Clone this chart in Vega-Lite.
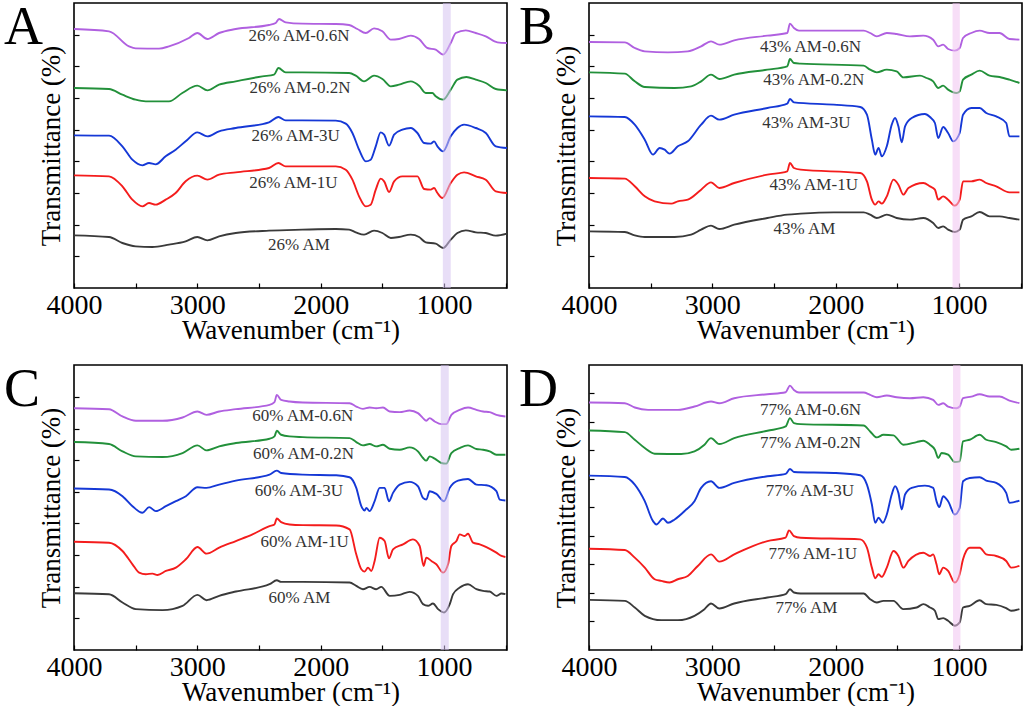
{
  "$schema": "https://vega.github.io/schema/vega-lite/v6.json",
  "description": "FTIR spectra of AM hydrogels, four panels A-D",
  "padding": {"left": 3, "top": 0, "right": 0, "bottom": 0},
  "bounds": "flush",
  "columns": 2,
  "spacing": {"row": 77, "column": 82},
  "config": {
    "view": {"stroke": "black", "strokeWidth": 1.6},
    "font": "Liberation Serif",
    "axis": {
      "labelFont": "Liberation Serif", "titleFont": "Liberation Serif",
      "labelFontSize": 28, "titleFontSize": 27, "titleFontWeight": "normal",
      "labelColor": "black", "titleColor": "black",
      "grid": false, "domain": false,
      "tickColor": "black", "tickSize": -5, "tickWidth": 1.2
    },
    "axisX": {
      "labelFlush": false, "labelOverlap": false, "labelPadding": 8, "titlePadding": -2,
      "values": [500, 1000, 1500, 2000, 2500, 3000, 3500, 4000],
      "labelExpr": "datum.value % 1000 === 0 ? datum.label : ''",
      "format": "d"
    },
    "axisY": {"labels": false, "titlePadding": 8},
    "title": {
      "font": "Liberation Serif", "fontSize": 54, "fontWeight": "normal", "color": "black",
      "anchor": "start", "frame": "group", "offset": 0, "dy": 56, "baseline": "alphabetic"
    },
    "text": {"font": "Liberation Serif", "fontSize": 17, "color": "#333333"},
    "line": {"strokeWidth": 1.9, "interpolate": "monotone"}
  },
  "datasets": {
    "A": [
      {"s":"0.6N","w":4000,"t":777},{"s":"0.6N","w":3716,"t":770},{"s":"0.6N","w":3554,"t":725},{"s":"0.6N","w":3500,"t":719},{"s":"0.6N","w":3311,"t":718},{"s":"0.6N","w":3230,"t":725},{"s":"0.6N","w":3068,"t":750},{"s":"0.6N","w":3000,"t":765},{"s":"0.6N","w":2919,"t":747},{"s":"0.6N","w":2824,"t":765},{"s":"0.6N","w":2689,"t":777},{"s":"0.6N","w":2419,"t":789},{"s":"0.6N","w":2365,"t":795},{"s":"0.6N","w":2338,"t":807},{"s":"0.6N","w":2284,"t":797},{"s":"0.6N","w":2149,"t":793},{"s":"0.6N","w":1878,"t":792},{"s":"0.6N","w":1770,"t":789},{"s":"0.6N","w":1703,"t":777},{"s":"0.6N","w":1635,"t":765},{"s":"0.6N","w":1568,"t":779},{"s":"0.6N","w":1500,"t":770},{"s":"0.6N","w":1432,"t":745},{"s":"0.6N","w":1365,"t":747},{"s":"0.6N","w":1270,"t":757},{"s":"0.6N","w":1203,"t":747},{"s":"0.6N","w":1135,"t":720},{"s":"0.6N","w":1068,"t":715},{"s":"0.6N","w":1008,"t":700},{"s":"0.6N","w":946,"t":735},{"s":"0.6N","w":905,"t":765},{"s":"0.6N","w":824,"t":773},{"s":"0.6N","w":743,"t":765},{"s":"0.6N","w":662,"t":755},{"s":"0.6N","w":568,"t":737},{"s":"0.6N","w":490,"t":735},
      {"s":"0.2N","w":4000,"t":600},{"s":"0.2N","w":3716,"t":597},{"s":"0.2N","w":3608,"t":580},{"s":"0.2N","w":3500,"t":565},{"s":"0.2N","w":3419,"t":560},{"s":"0.2N","w":3230,"t":560},{"s":"0.2N","w":3122,"t":585},{"s":"0.2N","w":3000,"t":607},{"s":"0.2N","w":2919,"t":593},{"s":"0.2N","w":2824,"t":610},{"s":"0.2N","w":2689,"t":620},{"s":"0.2N","w":2473,"t":635},{"s":"0.2N","w":2378,"t":640},{"s":"0.2N","w":2343,"t":660},{"s":"0.2N","w":2284,"t":647},{"s":"0.2N","w":2149,"t":647},{"s":"0.2N","w":1770,"t":645},{"s":"0.2N","w":1716,"t":637},{"s":"0.2N","w":1649,"t":620},{"s":"0.2N","w":1568,"t":637},{"s":"0.2N","w":1500,"t":627},{"s":"0.2N","w":1432,"t":605},{"s":"0.2N","w":1365,"t":610},{"s":"0.2N","w":1270,"t":620},{"s":"0.2N","w":1203,"t":607},{"s":"0.2N","w":1149,"t":585},{"s":"0.2N","w":1095,"t":585},{"s":"0.2N","w":1068,"t":575},{"s":"0.2N","w":1008,"t":565},{"s":"0.2N","w":946,"t":595},{"s":"0.2N","w":892,"t":625},{"s":"0.2N","w":819,"t":633},{"s":"0.2N","w":743,"t":625},{"s":"0.2N","w":662,"t":615},{"s":"0.2N","w":581,"t":597},{"s":"0.2N","w":490,"t":593},
      {"s":"3U","w":4000,"t":458},{"s":"3U","w":3716,"t":457},{"s":"3U","w":3608,"t":425},{"s":"3U","w":3527,"t":385},{"s":"3U","w":3446,"t":368},{"s":"3U","w":3392,"t":375},{"s":"3U","w":3338,"t":371},{"s":"3U","w":3257,"t":395},{"s":"3U","w":3176,"t":415},{"s":"3U","w":3095,"t":440},{"s":"3U","w":3000,"t":467},{"s":"3U","w":2919,"t":455},{"s":"3U","w":2824,"t":470},{"s":"3U","w":2689,"t":480},{"s":"3U","w":2419,"t":497},{"s":"3U","w":2343,"t":513},{"s":"3U","w":2284,"t":503},{"s":"3U","w":2149,"t":503},{"s":"3U","w":1878,"t":502},{"s":"3U","w":1797,"t":493},{"s":"3U","w":1743,"t":465},{"s":"3U","w":1689,"t":415},{"s":"3U","w":1635,"t":380},{"s":"3U","w":1595,"t":385},{"s":"3U","w":1554,"t":425},{"s":"3U","w":1514,"t":467},{"s":"3U","w":1486,"t":460},{"s":"3U","w":1446,"t":427},{"s":"3U","w":1405,"t":460},{"s":"3U","w":1338,"t":475},{"s":"3U","w":1270,"t":480},{"s":"3U","w":1216,"t":465},{"s":"3U","w":1162,"t":435},{"s":"3U","w":1108,"t":433},{"s":"3U","w":1081,"t":440},{"s":"3U","w":1054,"t":425},{"s":"3U","w":1008,"t":410},{"s":"3U","w":946,"t":455},{"s":"3U","w":892,"t":480},{"s":"3U","w":838,"t":490},{"s":"3U","w":743,"t":480},{"s":"3U","w":662,"t":465},{"s":"3U","w":581,"t":425},{"s":"3U","w":490,"t":420},
      {"s":"1U","w":4000,"t":338},{"s":"1U","w":3716,"t":335},{"s":"1U","w":3608,"t":305},{"s":"1U","w":3527,"t":265},{"s":"1U","w":3446,"t":245},{"s":"1U","w":3392,"t":255},{"s":"1U","w":3338,"t":250},{"s":"1U","w":3257,"t":265},{"s":"1U","w":3176,"t":285},{"s":"1U","w":3095,"t":320},{"s":"1U","w":3000,"t":337},{"s":"1U","w":2919,"t":325},{"s":"1U","w":2824,"t":340},{"s":"1U","w":2689,"t":347},{"s":"1U","w":2419,"t":360},{"s":"1U","w":2343,"t":375},{"s":"1U","w":2284,"t":365},{"s":"1U","w":2149,"t":365},{"s":"1U","w":1878,"t":365},{"s":"1U","w":1797,"t":355},{"s":"1U","w":1743,"t":325},{"s":"1U","w":1689,"t":275},{"s":"1U","w":1635,"t":245},{"s":"1U","w":1595,"t":250},{"s":"1U","w":1554,"t":295},{"s":"1U","w":1514,"t":328},{"s":"1U","w":1486,"t":320},{"s":"1U","w":1446,"t":288},{"s":"1U","w":1405,"t":320},{"s":"1U","w":1338,"t":335},{"s":"1U","w":1216,"t":335},{"s":"1U","w":1162,"t":297},{"s":"1U","w":1108,"t":295},{"s":"1U","w":1081,"t":300},{"s":"1U","w":1054,"t":285},{"s":"1U","w":1014,"t":270},{"s":"1U","w":946,"t":315},{"s":"1U","w":892,"t":340},{"s":"1U","w":838,"t":347},{"s":"1U","w":743,"t":335},{"s":"1U","w":662,"t":325},{"s":"1U","w":581,"t":290},{"s":"1U","w":490,"t":285},
      {"s":"AM","w":4000,"t":158},{"s":"AM","w":3716,"t":153},{"s":"AM","w":3608,"t":135},{"s":"AM","w":3500,"t":125},{"s":"AM","w":3365,"t":123},{"s":"AM","w":3230,"t":130},{"s":"AM","w":3095,"t":140},{"s":"AM","w":3000,"t":153},{"s":"AM","w":2919,"t":143},{"s":"AM","w":2824,"t":155},{"s":"AM","w":2689,"t":165},{"s":"AM","w":2419,"t":172},{"s":"AM","w":2149,"t":175},{"s":"AM","w":1878,"t":177},{"s":"AM","w":1770,"t":175},{"s":"AM","w":1716,"t":167},{"s":"AM","w":1649,"t":160},{"s":"AM","w":1568,"t":172},{"s":"AM","w":1500,"t":165},{"s":"AM","w":1432,"t":150},{"s":"AM","w":1365,"t":153},{"s":"AM","w":1270,"t":160},{"s":"AM","w":1203,"t":153},{"s":"AM","w":1149,"t":137},{"s":"AM","w":1068,"t":133},{"s":"AM","w":1008,"t":120},{"s":"AM","w":946,"t":145},{"s":"AM","w":892,"t":165},{"s":"AM","w":824,"t":173},{"s":"AM","w":743,"t":167},{"s":"AM","w":662,"t":165},{"s":"AM","w":581,"t":157},{"s":"AM","w":490,"t":163}
    ],
    "B": [
      {"s":"0.6N","w":4000,"t":738},{"s":"0.6N","w":3710,"t":737},{"s":"0.6N","w":3629,"t":720},{"s":"0.6N","w":3548,"t":710},{"s":"0.6N","w":3360,"t":707},{"s":"0.6N","w":3199,"t":710},{"s":"0.6N","w":3091,"t":725},{"s":"0.6N","w":3011,"t":740},{"s":"0.6N","w":2944,"t":730},{"s":"0.6N","w":2823,"t":743},{"s":"0.6N","w":2554,"t":757},{"s":"0.6N","w":2393,"t":765},{"s":"0.6N","w":2371,"t":793},{"s":"0.6N","w":2339,"t":780},{"s":"0.6N","w":2298,"t":772},{"s":"0.6N","w":2016,"t":772},{"s":"0.6N","w":1774,"t":772},{"s":"0.6N","w":1721,"t":765},{"s":"0.6N","w":1667,"t":755},{"s":"0.6N","w":1586,"t":765},{"s":"0.6N","w":1506,"t":762},{"s":"0.6N","w":1398,"t":755},{"s":"0.6N","w":1290,"t":757},{"s":"0.6N","w":1210,"t":745},{"s":"0.6N","w":1169,"t":725},{"s":"0.6N","w":1129,"t":730},{"s":"0.6N","w":1089,"t":717},{"s":"0.6N","w":1035,"t":712},{"s":"0.6N","w":995,"t":720},{"s":"0.6N","w":968,"t":750},{"s":"0.6N","w":901,"t":765},{"s":"0.6N","w":833,"t":772},{"s":"0.6N","w":753,"t":765},{"s":"0.6N","w":672,"t":765},{"s":"0.6N","w":592,"t":747},{"s":"0.6N","w":511,"t":745},
      {"s":"0.2N","w":4000,"t":647},{"s":"0.2N","w":3710,"t":643},{"s":"0.2N","w":3629,"t":620},{"s":"0.2N","w":3548,"t":603},{"s":"0.2N","w":3306,"t":600},{"s":"0.2N","w":3172,"t":605},{"s":"0.2N","w":3091,"t":620},{"s":"0.2N","w":3011,"t":640},{"s":"0.2N","w":2944,"t":627},{"s":"0.2N","w":2823,"t":640},{"s":"0.2N","w":2554,"t":655},{"s":"0.2N","w":2393,"t":665},{"s":"0.2N","w":2371,"t":687},{"s":"0.2N","w":2339,"t":675},{"s":"0.2N","w":2285,"t":673},{"s":"0.2N","w":1774,"t":667},{"s":"0.2N","w":1721,"t":655},{"s":"0.2N","w":1667,"t":647},{"s":"0.2N","w":1586,"t":655},{"s":"0.2N","w":1506,"t":650},{"s":"0.2N","w":1452,"t":632},{"s":"0.2N","w":1317,"t":637},{"s":"0.2N","w":1264,"t":630},{"s":"0.2N","w":1210,"t":620},{"s":"0.2N","w":1169,"t":600},{"s":"0.2N","w":1129,"t":607},{"s":"0.2N","w":1089,"t":595},{"s":"0.2N","w":1022,"t":585},{"s":"0.2N","w":995,"t":590},{"s":"0.2N","w":968,"t":625},{"s":"0.2N","w":901,"t":640},{"s":"0.2N","w":833,"t":652},{"s":"0.2N","w":753,"t":637},{"s":"0.2N","w":672,"t":633},{"s":"0.2N","w":592,"t":625},{"s":"0.2N","w":511,"t":615},
      {"s":"3U","w":4000,"t":515},{"s":"3U","w":3710,"t":513},{"s":"3U","w":3629,"t":490},{"s":"3U","w":3548,"t":445},{"s":"3U","w":3481,"t":400},{"s":"3U","w":3427,"t":420},{"s":"3U","w":3387,"t":415},{"s":"3U","w":3347,"t":403},{"s":"3U","w":3280,"t":425},{"s":"3U","w":3199,"t":440},{"s":"3U","w":3091,"t":490},{"s":"3U","w":3011,"t":517},{"s":"3U","w":2944,"t":505},{"s":"3U","w":2823,"t":520},{"s":"3U","w":2554,"t":540},{"s":"3U","w":2393,"t":553},{"s":"3U","w":2371,"t":567},{"s":"3U","w":2339,"t":557},{"s":"3U","w":2016,"t":550},{"s":"3U","w":1801,"t":543},{"s":"3U","w":1747,"t":520},{"s":"3U","w":1707,"t":445},{"s":"3U","w":1680,"t":400},{"s":"3U","w":1653,"t":420},{"s":"3U","w":1626,"t":395},{"s":"3U","w":1586,"t":425},{"s":"3U","w":1546,"t":490},{"s":"3U","w":1519,"t":510},{"s":"3U","w":1492,"t":485},{"s":"3U","w":1465,"t":437},{"s":"3U","w":1438,"t":485},{"s":"3U","w":1384,"t":510},{"s":"3U","w":1277,"t":522},{"s":"3U","w":1236,"t":513},{"s":"3U","w":1196,"t":495},{"s":"3U","w":1169,"t":450},{"s":"3U","w":1129,"t":483},{"s":"3U","w":1089,"t":465},{"s":"3U","w":1048,"t":440},{"s":"3U","w":995,"t":465},{"s":"3U","w":968,"t":520},{"s":"3U","w":901,"t":540},{"s":"3U","w":833,"t":540},{"s":"3U","w":780,"t":525},{"s":"3U","w":699,"t":515},{"s":"3U","w":618,"t":495},{"s":"3U","w":592,"t":455},{"s":"3U","w":511,"t":455},
      {"s":"1U","w":4000,"t":330},{"s":"1U","w":3710,"t":328},{"s":"1U","w":3629,"t":305},{"s":"1U","w":3548,"t":275},{"s":"1U","w":3468,"t":260},{"s":"1U","w":3333,"t":253},{"s":"1U","w":3280,"t":260},{"s":"1U","w":3199,"t":265},{"s":"1U","w":3091,"t":295},{"s":"1U","w":3011,"t":317},{"s":"1U","w":2944,"t":300},{"s":"1U","w":2823,"t":315},{"s":"1U","w":2554,"t":340},{"s":"1U","w":2393,"t":350},{"s":"1U","w":2371,"t":375},{"s":"1U","w":2339,"t":360},{"s":"1U","w":2285,"t":355},{"s":"1U","w":1801,"t":345},{"s":"1U","w":1747,"t":320},{"s":"1U","w":1707,"t":265},{"s":"1U","w":1680,"t":250},{"s":"1U","w":1653,"t":260},{"s":"1U","w":1626,"t":253},{"s":"1U","w":1586,"t":275},{"s":"1U","w":1532,"t":325},{"s":"1U","w":1492,"t":310},{"s":"1U","w":1452,"t":280},{"s":"1U","w":1411,"t":300},{"s":"1U","w":1290,"t":315},{"s":"1U","w":1236,"t":305},{"s":"1U","w":1196,"t":295},{"s":"1U","w":1169,"t":265},{"s":"1U","w":1129,"t":275},{"s":"1U","w":1089,"t":265},{"s":"1U","w":1035,"t":247},{"s":"1U","w":995,"t":265},{"s":"1U","w":968,"t":320},{"s":"1U","w":901,"t":320},{"s":"1U","w":833,"t":325},{"s":"1U","w":780,"t":315},{"s":"1U","w":699,"t":305},{"s":"1U","w":592,"t":287},{"s":"1U","w":511,"t":287},
      {"s":"AM","w":4000,"t":170},{"s":"AM","w":3710,"t":168},{"s":"AM","w":3629,"t":158},{"s":"AM","w":3548,"t":153},{"s":"AM","w":3306,"t":153},{"s":"AM","w":3172,"t":160},{"s":"AM","w":3091,"t":175},{"s":"AM","w":3011,"t":187},{"s":"AM","w":2944,"t":177},{"s":"AM","w":2823,"t":190},{"s":"AM","w":2554,"t":210},{"s":"AM","w":2393,"t":220},{"s":"AM","w":2285,"t":223},{"s":"AM","w":2016,"t":227},{"s":"AM","w":1774,"t":227},{"s":"AM","w":1721,"t":220},{"s":"AM","w":1667,"t":210},{"s":"AM","w":1586,"t":220},{"s":"AM","w":1506,"t":210},{"s":"AM","w":1398,"t":205},{"s":"AM","w":1290,"t":210},{"s":"AM","w":1210,"t":195},{"s":"AM","w":1169,"t":180},{"s":"AM","w":1129,"t":185},{"s":"AM","w":1089,"t":175},{"s":"AM","w":1035,"t":168},{"s":"AM","w":995,"t":175},{"s":"AM","w":968,"t":205},{"s":"AM","w":901,"t":215},{"s":"AM","w":833,"t":228},{"s":"AM","w":753,"t":215},{"s":"AM","w":672,"t":215},{"s":"AM","w":592,"t":210},{"s":"AM","w":511,"t":205}
    ],
    "C": [
      {"s":"0.6N","w":4000,"t":728},{"s":"0.6N","w":3716,"t":725},{"s":"0.6N","w":3607,"t":703},{"s":"0.6N","w":3499,"t":690},{"s":"0.6N","w":3282,"t":690},{"s":"0.6N","w":3120,"t":700},{"s":"0.6N","w":2999,"t":718},{"s":"0.6N","w":2926,"t":708},{"s":"0.6N","w":2823,"t":718},{"s":"0.6N","w":2688,"t":725},{"s":"0.6N","w":2415,"t":738},{"s":"0.6N","w":2375,"t":746},{"s":"0.6N","w":2356,"t":768},{"s":"0.6N","w":2321,"t":753},{"s":"0.6N","w":2253,"t":748},{"s":"0.6N","w":2145,"t":745},{"s":"0.6N","w":1766,"t":743},{"s":"0.6N","w":1712,"t":733},{"s":"0.6N","w":1658,"t":726},{"s":"0.6N","w":1604,"t":730},{"s":"0.6N","w":1550,"t":728},{"s":"0.6N","w":1495,"t":730},{"s":"0.6N","w":1441,"t":718},{"s":"0.6N","w":1360,"t":716},{"s":"0.6N","w":1279,"t":721},{"s":"0.6N","w":1212,"t":713},{"s":"0.6N","w":1171,"t":698},{"s":"0.6N","w":1144,"t":690},{"s":"0.6N","w":1117,"t":698},{"s":"0.6N","w":1076,"t":688},{"s":"0.6N","w":1022,"t":680},{"s":"0.6N","w":982,"t":680},{"s":"0.6N","w":941,"t":708},{"s":"0.6N","w":873,"t":723},{"s":"0.6N","w":806,"t":730},{"s":"0.6N","w":738,"t":723},{"s":"0.6N","w":684,"t":718},{"s":"0.6N","w":630,"t":716},{"s":"0.6N","w":576,"t":708},{"s":"0.6N","w":503,"t":703},
      {"s":"0.2N","w":4000,"t":626},{"s":"0.2N","w":3716,"t":620},{"s":"0.2N","w":3607,"t":598},{"s":"0.2N","w":3499,"t":583},{"s":"0.2N","w":3282,"t":581},{"s":"0.2N","w":3120,"t":593},{"s":"0.2N","w":2999,"t":616},{"s":"0.2N","w":2926,"t":601},{"s":"0.2N","w":2823,"t":613},{"s":"0.2N","w":2688,"t":623},{"s":"0.2N","w":2415,"t":636},{"s":"0.2N","w":2375,"t":643},{"s":"0.2N","w":2356,"t":660},{"s":"0.2N","w":2321,"t":648},{"s":"0.2N","w":2253,"t":643},{"s":"0.2N","w":2145,"t":641},{"s":"0.2N","w":1766,"t":638},{"s":"0.2N","w":1712,"t":626},{"s":"0.2N","w":1658,"t":616},{"s":"0.2N","w":1604,"t":620},{"s":"0.2N","w":1550,"t":613},{"s":"0.2N","w":1495,"t":618},{"s":"0.2N","w":1441,"t":606},{"s":"0.2N","w":1360,"t":603},{"s":"0.2N","w":1279,"t":610},{"s":"0.2N","w":1212,"t":598},{"s":"0.2N","w":1171,"t":578},{"s":"0.2N","w":1144,"t":570},{"s":"0.2N","w":1117,"t":583},{"s":"0.2N","w":1076,"t":576},{"s":"0.2N","w":1022,"t":563},{"s":"0.2N","w":982,"t":561},{"s":"0.2N","w":941,"t":593},{"s":"0.2N","w":873,"t":608},{"s":"0.2N","w":806,"t":616},{"s":"0.2N","w":738,"t":605},{"s":"0.2N","w":684,"t":603},{"s":"0.2N","w":630,"t":598},{"s":"0.2N","w":576,"t":588},{"s":"0.2N","w":503,"t":588},
      {"s":"3U","w":4000,"t":486},{"s":"3U","w":3716,"t":483},{"s":"3U","w":3607,"t":463},{"s":"3U","w":3526,"t":433},{"s":"3U","w":3445,"t":413},{"s":"3U","w":3391,"t":430},{"s":"3U","w":3337,"t":418},{"s":"3U","w":3255,"t":433},{"s":"3U","w":3174,"t":448},{"s":"3U","w":3093,"t":463},{"s":"3U","w":2999,"t":490},{"s":"3U","w":2926,"t":488},{"s":"3U","w":2823,"t":498},{"s":"3U","w":2688,"t":510},{"s":"3U","w":2415,"t":528},{"s":"3U","w":2356,"t":540},{"s":"3U","w":2321,"t":533},{"s":"3U","w":2145,"t":528},{"s":"3U","w":1874,"t":526},{"s":"3U","w":1766,"t":520},{"s":"3U","w":1712,"t":488},{"s":"3U","w":1671,"t":433},{"s":"3U","w":1644,"t":420},{"s":"3U","w":1630,"t":428},{"s":"3U","w":1604,"t":418},{"s":"3U","w":1563,"t":448},{"s":"3U","w":1522,"t":488},{"s":"3U","w":1482,"t":488},{"s":"3U","w":1447,"t":448},{"s":"3U","w":1414,"t":473},{"s":"3U","w":1360,"t":498},{"s":"3U","w":1279,"t":506},{"s":"3U","w":1212,"t":493},{"s":"3U","w":1171,"t":458},{"s":"3U","w":1144,"t":453},{"s":"3U","w":1117,"t":478},{"s":"3U","w":1063,"t":470},{"s":"3U","w":1000,"t":448},{"s":"3U","w":954,"t":488},{"s":"3U","w":887,"t":510},{"s":"3U","w":806,"t":515},{"s":"3U","w":738,"t":498},{"s":"3U","w":657,"t":496},{"s":"3U","w":576,"t":478},{"s":"3U","w":549,"t":453},{"s":"3U","w":503,"t":450},
      {"s":"1U","w":4000,"t":326},{"s":"1U","w":3716,"t":323},{"s":"1U","w":3607,"t":298},{"s":"1U","w":3526,"t":258},{"s":"1U","w":3472,"t":233},{"s":"1U","w":3418,"t":228},{"s":"1U","w":3364,"t":230},{"s":"1U","w":3323,"t":226},{"s":"1U","w":3255,"t":238},{"s":"1U","w":3174,"t":248},{"s":"1U","w":3093,"t":273},{"s":"1U","w":2999,"t":310},{"s":"1U","w":2926,"t":290},{"s":"1U","w":2823,"t":308},{"s":"1U","w":2688,"t":328},{"s":"1U","w":2553,"t":348},{"s":"1U","w":2415,"t":373},{"s":"1U","w":2375,"t":378},{"s":"1U","w":2356,"t":396},{"s":"1U","w":2321,"t":385},{"s":"1U","w":2253,"t":378},{"s":"1U","w":2145,"t":376},{"s":"1U","w":1874,"t":375},{"s":"1U","w":1766,"t":363},{"s":"1U","w":1712,"t":288},{"s":"1U","w":1671,"t":243},{"s":"1U","w":1644,"t":236},{"s":"1U","w":1617,"t":248},{"s":"1U","w":1590,"t":238},{"s":"1U","w":1563,"t":268},{"s":"1U","w":1522,"t":338},{"s":"1U","w":1482,"t":328},{"s":"1U","w":1447,"t":276},{"s":"1U","w":1414,"t":303},{"s":"1U","w":1333,"t":318},{"s":"1U","w":1252,"t":333},{"s":"1U","w":1198,"t":313},{"s":"1U","w":1166,"t":253},{"s":"1U","w":1144,"t":278},{"s":"1U","w":1103,"t":268},{"s":"1U","w":1063,"t":258},{"s":"1U","w":1008,"t":233},{"s":"1U","w":968,"t":258},{"s":"1U","w":941,"t":313},{"s":"1U","w":900,"t":328},{"s":"1U","w":873,"t":348},{"s":"1U","w":833,"t":343},{"s":"1U","w":806,"t":350},{"s":"1U","w":765,"t":323},{"s":"1U","w":711,"t":318},{"s":"1U","w":657,"t":310},{"s":"1U","w":576,"t":293},{"s":"1U","w":535,"t":283},{"s":"1U","w":503,"t":280},
      {"s":"AM","w":4000,"t":171},{"s":"AM","w":3716,"t":168},{"s":"AM","w":3607,"t":143},{"s":"AM","w":3499,"t":123},{"s":"AM","w":3282,"t":120},{"s":"AM","w":3120,"t":133},{"s":"AM","w":2999,"t":166},{"s":"AM","w":2926,"t":150},{"s":"AM","w":2823,"t":163},{"s":"AM","w":2688,"t":176},{"s":"AM","w":2415,"t":198},{"s":"AM","w":2356,"t":210},{"s":"AM","w":2321,"t":205},{"s":"AM","w":2145,"t":205},{"s":"AM","w":1766,"t":203},{"s":"AM","w":1712,"t":193},{"s":"AM","w":1658,"t":183},{"s":"AM","w":1604,"t":190},{"s":"AM","w":1550,"t":183},{"s":"AM","w":1509,"t":190},{"s":"AM","w":1441,"t":163},{"s":"AM","w":1360,"t":166},{"s":"AM","w":1279,"t":175},{"s":"AM","w":1212,"t":163},{"s":"AM","w":1171,"t":138},{"s":"AM","w":1130,"t":133},{"s":"AM","w":1090,"t":140},{"s":"AM","w":1049,"t":123},{"s":"AM","w":1000,"t":113},{"s":"AM","w":954,"t":138},{"s":"AM","w":927,"t":168},{"s":"AM","w":873,"t":188},{"s":"AM","w":806,"t":198},{"s":"AM","w":738,"t":183},{"s":"AM","w":684,"t":178},{"s":"AM","w":630,"t":176},{"s":"AM","w":576,"t":163},{"s":"AM","w":535,"t":170},{"s":"AM","w":503,"t":168}
    ],
    "D": [
      {"s":"0.6N","w":4000,"t":745},{"s":"0.6N","w":3710,"t":743},{"s":"0.6N","w":3629,"t":730},{"s":"0.6N","w":3521,"t":723},{"s":"0.6N","w":3279,"t":723},{"s":"0.6N","w":3145,"t":733},{"s":"0.6N","w":3011,"t":748},{"s":"0.6N","w":2944,"t":743},{"s":"0.6N","w":2823,"t":758},{"s":"0.6N","w":2554,"t":770},{"s":"0.6N","w":2406,"t":776},{"s":"0.6N","w":2371,"t":796},{"s":"0.6N","w":2339,"t":783},{"s":"0.6N","w":2298,"t":775},{"s":"0.6N","w":1774,"t":775},{"s":"0.6N","w":1721,"t":768},{"s":"0.6N","w":1667,"t":761},{"s":"0.6N","w":1586,"t":766},{"s":"0.6N","w":1506,"t":761},{"s":"0.6N","w":1398,"t":758},{"s":"0.6N","w":1290,"t":761},{"s":"0.6N","w":1210,"t":753},{"s":"0.6N","w":1169,"t":738},{"s":"0.6N","w":1129,"t":743},{"s":"0.6N","w":1089,"t":733},{"s":"0.6N","w":1022,"t":728},{"s":"0.6N","w":995,"t":733},{"s":"0.6N","w":968,"t":758},{"s":"0.6N","w":901,"t":763},{"s":"0.6N","w":833,"t":770},{"s":"0.6N","w":753,"t":763},{"s":"0.6N","w":672,"t":763},{"s":"0.6N","w":592,"t":751},{"s":"0.6N","w":511,"t":743},
      {"s":"0.2N","w":4000,"t":661},{"s":"0.2N","w":3710,"t":656},{"s":"0.2N","w":3629,"t":633},{"s":"0.2N","w":3548,"t":608},{"s":"0.2N","w":3468,"t":591},{"s":"0.2N","w":3253,"t":590},{"s":"0.2N","w":3145,"t":598},{"s":"0.2N","w":3064,"t":618},{"s":"0.2N","w":3011,"t":638},{"s":"0.2N","w":2944,"t":620},{"s":"0.2N","w":2823,"t":638},{"s":"0.2N","w":2554,"t":660},{"s":"0.2N","w":2406,"t":673},{"s":"0.2N","w":2371,"t":698},{"s":"0.2N","w":2339,"t":683},{"s":"0.2N","w":2285,"t":680},{"s":"0.2N","w":1774,"t":676},{"s":"0.2N","w":1721,"t":658},{"s":"0.2N","w":1667,"t":640},{"s":"0.2N","w":1613,"t":648},{"s":"0.2N","w":1532,"t":646},{"s":"0.2N","w":1452,"t":618},{"s":"0.2N","w":1344,"t":626},{"s":"0.2N","w":1290,"t":630},{"s":"0.2N","w":1236,"t":618},{"s":"0.2N","w":1196,"t":603},{"s":"0.2N","w":1169,"t":578},{"s":"0.2N","w":1142,"t":593},{"s":"0.2N","w":1089,"t":588},{"s":"0.2N","w":1035,"t":566},{"s":"0.2N","w":995,"t":568},{"s":"0.2N","w":968,"t":628},{"s":"0.2N","w":914,"t":633},{"s":"0.2N","w":833,"t":648},{"s":"0.2N","w":780,"t":633},{"s":"0.2N","w":699,"t":626},{"s":"0.2N","w":618,"t":613},{"s":"0.2N","w":578,"t":603},{"s":"0.2N","w":511,"t":606},
      {"s":"3U","w":4000,"t":525},{"s":"3U","w":3710,"t":521},{"s":"3U","w":3629,"t":498},{"s":"3U","w":3548,"t":448},{"s":"3U","w":3481,"t":388},{"s":"3U","w":3454,"t":378},{"s":"3U","w":3400,"t":396},{"s":"3U","w":3360,"t":383},{"s":"3U","w":3306,"t":393},{"s":"3U","w":3212,"t":423},{"s":"3U","w":3145,"t":448},{"s":"3U","w":3091,"t":488},{"s":"3U","w":3011,"t":508},{"s":"3U","w":2944,"t":488},{"s":"3U","w":2823,"t":503},{"s":"3U","w":2554,"t":523},{"s":"3U","w":2406,"t":530},{"s":"3U","w":2371,"t":545},{"s":"3U","w":2339,"t":536},{"s":"3U","w":2016,"t":533},{"s":"3U","w":1801,"t":526},{"s":"3U","w":1747,"t":498},{"s":"3U","w":1707,"t":438},{"s":"3U","w":1680,"t":383},{"s":"3U","w":1653,"t":398},{"s":"3U","w":1618,"t":383},{"s":"3U","w":1586,"t":408},{"s":"3U","w":1546,"t":468},{"s":"3U","w":1519,"t":493},{"s":"3U","w":1492,"t":473},{"s":"3U","w":1465,"t":423},{"s":"3U","w":1438,"t":468},{"s":"3U","w":1384,"t":488},{"s":"3U","w":1277,"t":495},{"s":"3U","w":1210,"t":488},{"s":"3U","w":1183,"t":448},{"s":"3U","w":1161,"t":430},{"s":"3U","w":1129,"t":463},{"s":"3U","w":1089,"t":448},{"s":"3U","w":1035,"t":408},{"s":"3U","w":995,"t":428},{"s":"3U","w":968,"t":508},{"s":"3U","w":914,"t":518},{"s":"3U","w":833,"t":520},{"s":"3U","w":780,"t":510},{"s":"3U","w":699,"t":503},{"s":"3U","w":618,"t":473},{"s":"3U","w":592,"t":443},{"s":"3U","w":511,"t":450},
      {"s":"1U","w":4000,"t":305},{"s":"1U","w":3710,"t":301},{"s":"1U","w":3629,"t":278},{"s":"1U","w":3548,"t":248},{"s":"1U","w":3468,"t":213},{"s":"1U","w":3414,"t":208},{"s":"1U","w":3347,"t":203},{"s":"1U","w":3280,"t":213},{"s":"1U","w":3199,"t":223},{"s":"1U","w":3118,"t":253},{"s":"1U","w":3011,"t":288},{"s":"1U","w":2944,"t":266},{"s":"1U","w":2823,"t":288},{"s":"1U","w":2554,"t":328},{"s":"1U","w":2406,"t":338},{"s":"1U","w":2379,"t":360},{"s":"1U","w":2339,"t":343},{"s":"1U","w":2285,"t":338},{"s":"1U","w":1801,"t":333},{"s":"1U","w":1747,"t":308},{"s":"1U","w":1707,"t":248},{"s":"1U","w":1680,"t":216},{"s":"1U","w":1653,"t":228},{"s":"1U","w":1626,"t":220},{"s":"1U","w":1586,"t":248},{"s":"1U","w":1532,"t":298},{"s":"1U","w":1492,"t":283},{"s":"1U","w":1452,"t":248},{"s":"1U","w":1411,"t":268},{"s":"1U","w":1290,"t":293},{"s":"1U","w":1236,"t":283},{"s":"1U","w":1210,"t":288},{"s":"1U","w":1183,"t":258},{"s":"1U","w":1161,"t":228},{"s":"1U","w":1129,"t":248},{"s":"1U","w":1089,"t":238},{"s":"1U","w":1035,"t":203},{"s":"1U","w":995,"t":228},{"s":"1U","w":968,"t":273},{"s":"1U","w":914,"t":308},{"s":"1U","w":833,"t":308},{"s":"1U","w":780,"t":288},{"s":"1U","w":699,"t":283},{"s":"1U","w":618,"t":268},{"s":"1U","w":578,"t":248},{"s":"1U","w":511,"t":253},
      {"s":"AM","w":4000,"t":151},{"s":"AM","w":3710,"t":148},{"s":"AM","w":3629,"t":128},{"s":"AM","w":3548,"t":103},{"s":"AM","w":3414,"t":90},{"s":"AM","w":3279,"t":90},{"s":"AM","w":3145,"t":103},{"s":"AM","w":3064,"t":123},{"s":"AM","w":3011,"t":140},{"s":"AM","w":2944,"t":125},{"s":"AM","w":2823,"t":140},{"s":"AM","w":2554,"t":158},{"s":"AM","w":2406,"t":168},{"s":"AM","w":2371,"t":183},{"s":"AM","w":2339,"t":173},{"s":"AM","w":2285,"t":170},{"s":"AM","w":1774,"t":170},{"s":"AM","w":1721,"t":153},{"s":"AM","w":1667,"t":143},{"s":"AM","w":1613,"t":148},{"s":"AM","w":1532,"t":148},{"s":"AM","w":1452,"t":123},{"s":"AM","w":1344,"t":128},{"s":"AM","w":1290,"t":138},{"s":"AM","w":1236,"t":128},{"s":"AM","w":1196,"t":118},{"s":"AM","w":1169,"t":93},{"s":"AM","w":1129,"t":96},{"s":"AM","w":1089,"t":88},{"s":"AM","w":1035,"t":73},{"s":"AM","w":995,"t":83},{"s":"AM","w":968,"t":128},{"s":"AM","w":914,"t":133},{"s":"AM","w":833,"t":150},{"s":"AM","w":780,"t":138},{"s":"AM","w":699,"t":136},{"s":"AM","w":618,"t":126},{"s":"AM","w":578,"t":118},{"s":"AM","w":511,"t":123}
    ],
    "LA": [
      {"w":2176,"t":757,"label":"26% AM-0.6N"},{"w":2167,"t":600,"label":"26% AM-0.2N"},{"w":2203,"t":455,"label":"26% AM-3U"},{"w":2222,"t":315,"label":"26% AM-1U"},{"w":2176,"t":130,"label":"26% AM"}
    ],
    "LB": [
      {"w":2204,"t":723,"label":"43% AM-0.6N"},{"w":2178,"t":625,"label":"43% AM-0.2N"},{"w":2237,"t":495,"label":"43% AM-3U"},{"w":2178,"t":310,"label":"43% AM-1U"},{"w":2253,"t":177,"label":"43% AM"}
    ],
    "LC": [
      {"w":2145,"t":703,"label":"60% AM-0.6N"},{"w":2140,"t":591,"label":"60% AM-0.2N"},{"w":2177,"t":478,"label":"60% AM-3U"},{"w":2131,"t":326,"label":"60% AM-1U"},{"w":2172,"t":158,"label":"60% AM"}
    ],
    "LD": [
      {"w":2204,"t":723,"label":"77% AM-0.6N"},{"w":2204,"t":623,"label":"77% AM-0.2N"},{"w":2210,"t":478,"label":"77% AM-3U"},{"w":2186,"t":290,"label":"77% AM-1U"},{"w":2237,"t":126,"label":"77% AM"}
    ]
  },
  "concat": [
    {
      "width": 433, "height": 285,
      "title": {"text": "A", "dx": -70},
      "encoding": {
        "x": {"field": "w", "type": "quantitative", "scale": {"domain": [490, 4000], "reverse": true, "nice": false, "zero": false}, "axis": {"title": "Wavenumber (cm⁻¹)"}},
        "y": {"field": "t", "type": "quantitative", "scale": {"domain": [0, 855], "nice": false, "zero": false}, "axis": {"values": [95, 190, 285, 380, 475, 570, 665, 760], "title": "Transmittance (%)"}}
      },
      "layer": [
        {"data": {"name": "A"}, "mark": "line", "encoding": {"color": {"field": "s", "type": "nominal", "legend": null, "scale": {"domain": ["0.6N", "0.2N", "3U", "1U", "AM"], "range": ["#b060e0", "#22903a", "#1538d6", "#f41c1c", "#3a3a3a"]}}}},
        {"data": {"values": [{"w": 946, "w2": 1010, "t": 0, "t2": 855}]}, "mark": {"type": "rect", "fill": "#d6c3f0", "opacity": 0.55}, "encoding": {"x2": {"field": "w2"}, "y2": {"field": "t2"}}},
        {"data": {"name": "LA"}, "mark": {"type": "text", "baseline": "middle", "align": "center"}, "encoding": {"text": {"field": "label"}}}
      ]
    },
    {
      "width": 433, "height": 285,
      "title": {"text": "B", "dx": -70},
      "encoding": {
        "x": {"field": "w", "type": "quantitative", "scale": {"domain": [490, 4000], "reverse": true, "nice": false, "zero": false}, "axis": {"title": "Wavenumber (cm⁻¹)"}},
        "y": {"field": "t", "type": "quantitative", "scale": {"domain": [0, 855], "nice": false, "zero": false}, "axis": {"values": [95, 190, 285, 380, 475, 570, 665, 760], "title": "Transmittance (%)"}}
      },
      "layer": [
        {"data": {"name": "B"}, "mark": "line", "encoding": {"color": {"field": "s", "type": "nominal", "legend": null, "scale": {"domain": ["0.6N", "0.2N", "3U", "1U", "AM"], "range": ["#b060e0", "#22903a", "#1538d6", "#f41c1c", "#3a3a3a"]}}}},
        {"data": {"values": [{"w": 994, "w2": 1053, "t": 0, "t2": 855}]}, "mark": {"type": "rect", "fill": "#f0c2f0", "opacity": 0.55}, "encoding": {"x2": {"field": "w2"}, "y2": {"field": "t2"}}},
        {"data": {"name": "LB"}, "mark": {"type": "text", "baseline": "middle", "align": "center"}, "encoding": {"text": {"field": "label"}}}
      ]
    },
    {
      "width": 433, "height": 285,
      "title": {"text": "C", "dx": -70},
      "encoding": {
        "x": {"field": "w", "type": "quantitative", "scale": {"domain": [490, 4000], "reverse": true, "nice": false, "zero": false}, "axis": {"title": "Wavenumber (cm⁻¹)"}},
        "y": {"field": "t", "type": "quantitative", "scale": {"domain": [0, 858], "nice": false, "zero": false}, "axis": {"values": [96, 191, 286, 381, 476, 571, 666, 761], "title": "Transmittance (%)"}}
      },
      "layer": [
        {"data": {"name": "C"}, "mark": "line", "encoding": {"color": {"field": "s", "type": "nominal", "legend": null, "scale": {"domain": ["0.6N", "0.2N", "3U", "1U", "AM"], "range": ["#b060e0", "#22903a", "#1538d6", "#f41c1c", "#3a3a3a"]}}}},
        {"data": {"values": [{"w": 962, "w2": 1027, "t": 0, "t2": 858}]}, "mark": {"type": "rect", "fill": "#d6c3f0", "opacity": 0.55}, "encoding": {"x2": {"field": "w2"}, "y2": {"field": "t2"}}},
        {"data": {"name": "LC"}, "mark": {"type": "text", "baseline": "middle", "align": "center"}, "encoding": {"text": {"field": "label"}}}
      ]
    },
    {
      "width": 433, "height": 285,
      "title": {"text": "D", "dx": -70},
      "encoding": {
        "x": {"field": "w", "type": "quantitative", "scale": {"domain": [490, 4000], "reverse": true, "nice": false, "zero": false}, "axis": {"title": "Wavenumber (cm⁻¹)"}},
        "y": {"field": "t", "type": "quantitative", "scale": {"domain": [0, 858], "nice": false, "zero": false}, "axis": {"values": [87, 173, 258, 344, 430, 516, 601, 687, 773], "title": "Transmittance (%)"}}
      },
      "layer": [
        {"data": {"name": "D"}, "mark": "line", "encoding": {"color": {"field": "s", "type": "nominal", "legend": null, "scale": {"domain": ["0.6N", "0.2N", "3U", "1U", "AM"], "range": ["#b060e0", "#22903a", "#1538d6", "#f41c1c", "#3a3a3a"]}}}},
        {"data": {"values": [{"w": 989, "w2": 1049, "t": 0, "t2": 858}]}, "mark": {"type": "rect", "fill": "#f0c2f0", "opacity": 0.55}, "encoding": {"x2": {"field": "w2"}, "y2": {"field": "t2"}}},
        {"data": {"name": "LD"}, "mark": {"type": "text", "baseline": "middle", "align": "center"}, "encoding": {"text": {"field": "label"}}}
      ]
    }
  ]
}
